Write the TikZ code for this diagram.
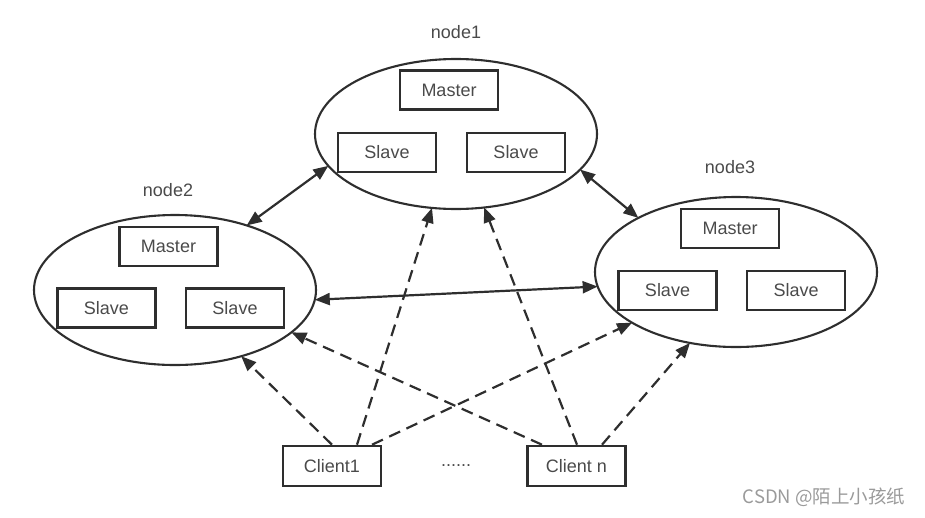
\documentclass[tikz,border=0pt]{standalone}
\usepackage{fontspec}
\setmainfont{Liberation Sans}
\newfontfamily\cjkfont{Noto Sans CJK SC}
\usetikzlibrary{shapes.geometric,arrows.meta}
\definecolor{ink}{HTML}{2E2E2E}
\definecolor{txt}{HTML}{4A4A4A}
\definecolor{wm}{HTML}{9A9A9A}
\begin{document}
\begin{tikzpicture}[x=1pt,y=-1pt,
  cluster/.style={ellipse,draw=ink,line width=2.1pt,minimum width=282pt,minimum height=150pt,inner sep=0pt,outer sep=0pt},
  box/.style={draw=ink,line width=2.6pt,minimum width=98pt,minimum height=39pt,inner sep=0pt,text=txt,font=\fontsize{18}{21}\selectfont},
  lbl/.style={text=txt,font=\fontsize{18}{21}\selectfont},
  both/.style={ink,line width=2.2pt,{Triangle[length=15pt,width=12pt]}-{Triangle[length=15pt,width=12pt]}},
  dasharrow/.style={ink,line width=2.2pt,dash pattern=on 12pt off 7pt,-{Triangle[length=15pt,width=12pt]}}
]
\useasboundingbox (0,0) rectangle (925,517);

% clusters
\node[cluster] (n1) at (456,134) {};
\node[cluster] (n2) at (175,290) {};
\node[cluster] (n3) at (736,272) {};

\node[lbl] (l1) at (456,32) {node1};
\node[lbl] (l2) at (168,190) {node2};
\node[lbl] (l3) at (730,167) {node3};

% node1 boxes
\node[box] (m1) at (449,90) {Master};
\node[box] (s1a) at (387,152.5) {Slave};
\node[box] (s1b) at (516,152.5) {Slave};
% node2 boxes
\node[box] (m2) at (168.5,246.5) {Master};
\node[box] (s2a) at (106.5,308) {Slave};
\node[box] (s2b) at (235,308) {Slave};
% node3 boxes
\node[box] (m3) at (730,228.5) {Master};
\node[box] (s3a) at (667.5,290.5) {Slave};
\node[box] (s3b) at (796,290.5) {Slave};

% clients
\node[box,minimum height=40pt] (c1) at (332,466) {Client1};
\node[box,minimum height=40pt] (cn) at (576.5,466) {Client n};
\node[lbl] (dots) at (456,466) {......};

% solid links
\draw[both] (n2.42) -- (n1.194.5);
\draw[both] (n1.344) -- (n3.151.5);
\draw[both] (n2.356) -- (n3.186);

% client coordinates
\coordinate (c1a) at ([xshift=0pt]c1.north);
\coordinate (c1b) at ([xshift=25pt]c1.north);
\coordinate (c1c) at ([xshift=40pt]c1.north);
\coordinate (cna) at ([xshift=-34.5pt]cn.north);
\coordinate (cnb) at ([xshift=0.5pt]cn.north);
\coordinate (cnc) at ([xshift=25.5pt]cn.north);

% dashed links
\draw[dasharrow] (c1a) -- (n2.315);
\draw[dasharrow] (c1b) -- (n1.252.3);
\draw[dasharrow] (c1c) -- (n3.206.6);
\draw[dasharrow] (cna) -- (n2.340.6);
\draw[dasharrow] (cnb) -- (n1.291.1);
\draw[dasharrow] (cnc) -- (n3.237.8);

% watermark
\node[text=wm,font=\cjkfont\fontsize{18.5}{21}\selectfont] (wmk) at (824,497) {CSDN @陌上小孩纸};
\end{tikzpicture}
\end{document}
